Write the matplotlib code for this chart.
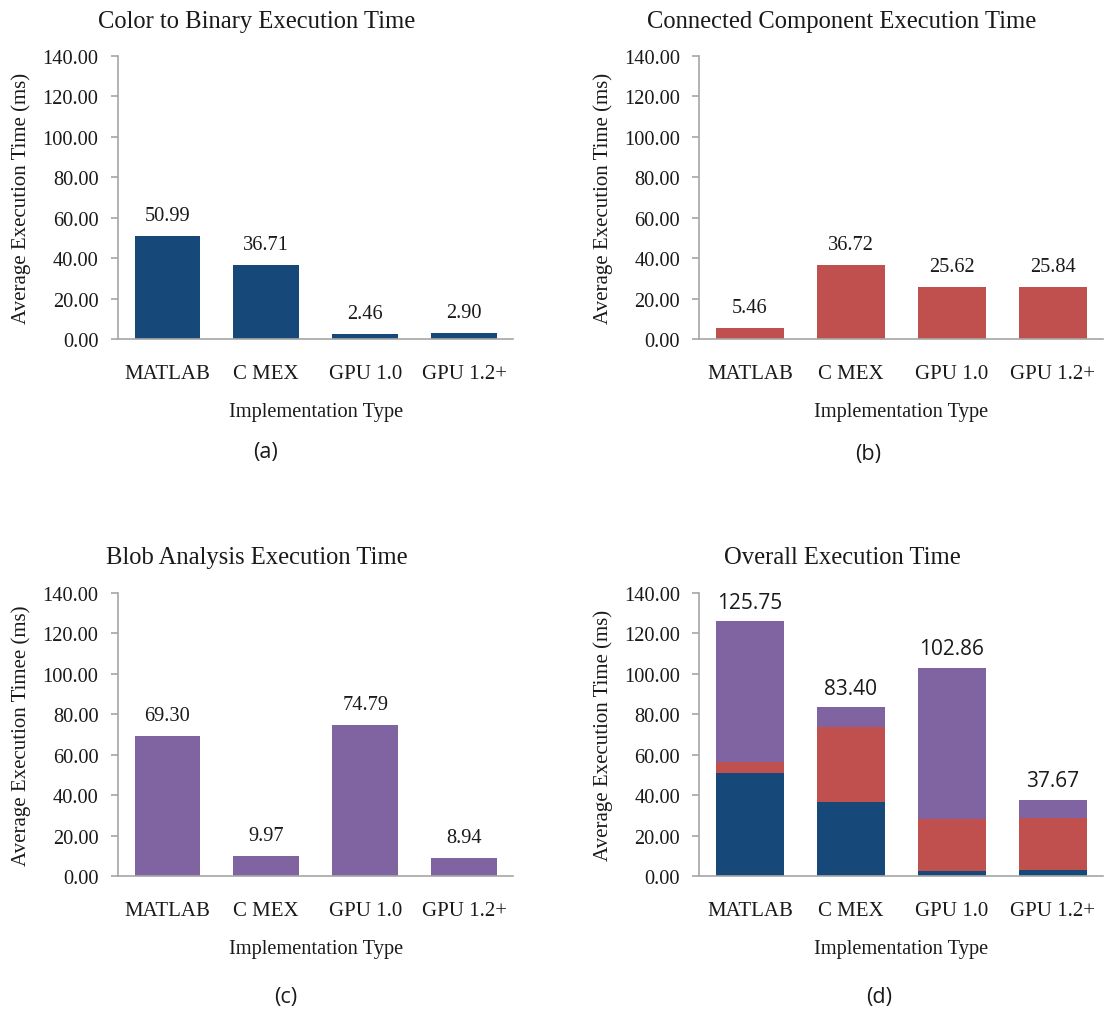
import numpy as np
import matplotlib.pyplot as plt

# data
impl_types = ['MATLAB', 'C MEX', 'GPU 1.0', 'GPU 1.2+']
color_to_binary = [50.99, 36.71, 2.46, 2.90]
connected_comp = [5.46, 36.72, 25.62, 25.84]
blob_analysis = [69.30, 9.97, 74.79, 8.94]
overall_labels = ['125.75', '83.40', '102.86', '37.67']

blue = '#17487A'
red = '#C0504D'
purple = '#8064A2'
grey = '#A6A6A6'

plt.rcParams['font.family'] = ['Liberation Serif', 'DejaVu Serif']

fig = plt.figure(figsize=(11.09, 10.12), dpi=100)

ax_a = fig.add_axes([0.1064, 0.664, 0.3566, 0.280])
ax_b = fig.add_axes([0.6307, 0.664, 0.3643, 0.280])
ax_c = fig.add_axes([0.1064, 0.1334, 0.3566, 0.280])
ax_d = fig.add_axes([0.6307, 0.1334, 0.3643, 0.280])

x = np.arange(len(impl_types))
w = 0.665


def style_axes(ax, title, ylabel, title_x):
    ax.set_ylim(0, 140)
    ax.set_xlim(-0.5, len(impl_types) - 0.5)
    ax.set_yticks(np.arange(0, 141, 20))
    ax.set_yticklabels([f'{v:.2f}' for v in np.arange(0, 141, 20)])
    ax.set_xticks(x)
    ax.set_xticklabels(impl_types)
    for s in ['top', 'right']:
        ax.spines[s].set_visible(False)
    for s in ['left', 'bottom']:
        ax.spines[s].set_color(grey)
        ax.spines[s].set_linewidth(1.2)
    ax.tick_params(axis='y', length=5, width=1.2, color=grey, pad=9,
                   labelsize=14.7, labelcolor='#1a1a1a')
    ax.tick_params(axis='x', length=0, pad=18, labelsize=15,
                   labelcolor='#1a1a1a')
    ax.set_title(title, fontsize=17.7, pad=21, color='#1a1a1a', x=title_x)
    ax.set_ylabel(ylabel, fontsize=15, labelpad=8, color='#1a1a1a')
    ax.set_xlabel('Implementation Type', fontsize=14.7, labelpad=14,
                  color='#1a1a1a')


def simple_bars(ax, vals, color):
    bars = ax.bar(x, vals, width=w, color=color, zorder=2)
    for b, v in zip(bars, vals):
        ax.annotate(f'{v:.2f}', (b.get_x() + b.get_width() / 2, v),
                    xytext=(0, 8), textcoords='offset points',
                    ha='center', va='bottom', fontsize=14.7, color='#1a1a1a')


simple_bars(ax_a, color_to_binary, blue)
style_axes(ax_a, 'Color to Binary Execution Time',
           'Average Execution Time (ms)', 0.35)

simple_bars(ax_b, connected_comp, red)
style_axes(ax_b, 'Connected Component Execution Time',
           'Average Execution Time (ms)', 0.353)

simple_bars(ax_c, blob_analysis, purple)
style_axes(ax_c, 'Blob Analysis Execution Time',
           'Average Execution Timee (ms)', 0.35)

# stacked overall
bottom1 = np.array(color_to_binary)
bottom2 = bottom1 + np.array(connected_comp)
total = bottom2 + np.array(blob_analysis)
ax_d.bar(x, color_to_binary, width=w, color=blue, zorder=2)
ax_d.bar(x, connected_comp, width=w, bottom=bottom1, color=red, zorder=2)
ax_d.bar(x, blob_analysis, width=w, bottom=bottom2, color=purple, zorder=2)
for xi, t, lab in zip(x, total, overall_labels):
    ax_d.annotate(lab, (xi, t), xytext=(0, 6), textcoords='offset points',
                  ha='center', va='bottom', fontsize=15, family='Open Sans',
                  color='#1a1a1a')
style_axes(ax_d, 'Overall Execution Time',
           'Average Execution Time (ms)', 0.353)

# panel letters
for lab, px, py in [('(a)', 0.239, 0.553), ('(b)', 0.7827, 0.551),
                    ('(c)', 0.2574, 0.0148), ('(d)', 0.7926, 0.0148)]:
    fig.text(px, py, lab, ha='center', va='center', fontsize=15.5,
             family='Open Sans', color='#1a1a1a')

fig.savefig('out.png', dpi=100)
